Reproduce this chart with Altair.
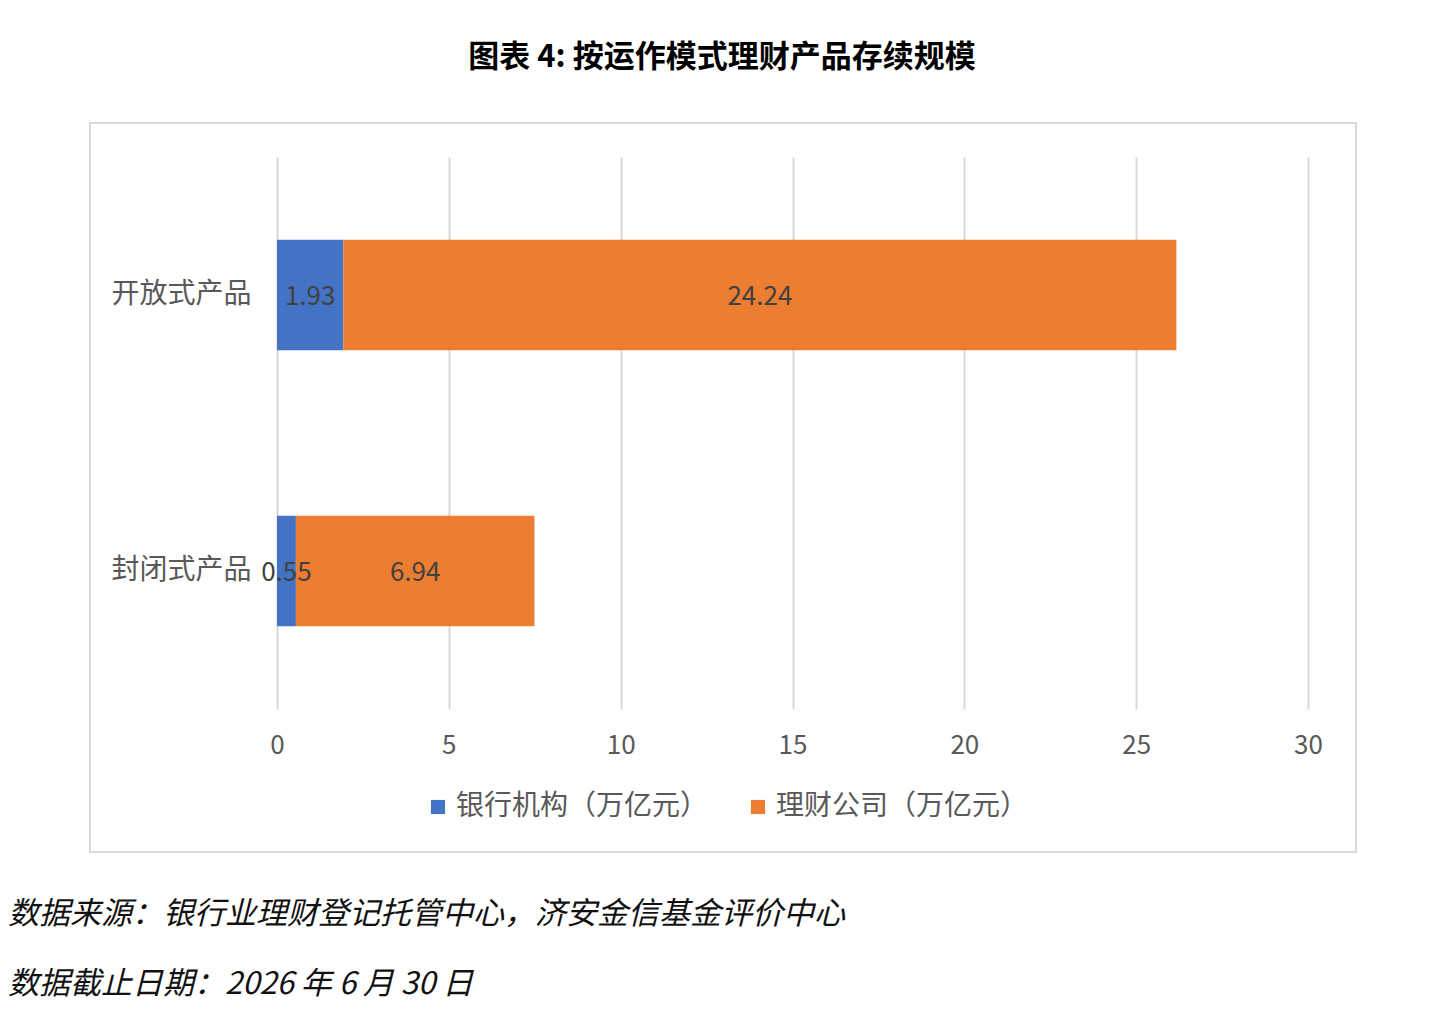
import altair as alt
import pandas as pd

# data
categories = ["开放式产品", "封闭式产品"]
series = ["银行机构（万亿元）", "理财公司（万亿元）"]
bank_values = [1.93, 0.55]
company_values = [24.24, 6.94]
colors = ["#4472C4", "#ED7D31"]
x_ticks = [0, 5, 10, 15, 20, 25, 30]

title_text = "图表 4:  按运作模式理财产品存续规模"
source_text = "数据来源：银行业理财登记托管中心，济安金信基金评价中心"
date_text = "数据截止日期：2026 年 6 月 30 日"

FONT = "Noto Sans CJK SC"

rows = []
for i, cat in enumerate(categories):
    rows.append({"category": cat, "series": series[0], "order": 0, "value": bank_values[i]})
    rows.append({"category": cat, "series": series[1], "order": 1, "value": company_values[i]})
df = pd.DataFrame(rows)
one = pd.DataFrame({"k": [0]})

y_enc = alt.Y("category:N", sort=categories, title=None,
              scale=alt.Scale(paddingInner=0.6, paddingOuter=0.3),
              axis=alt.Axis(domain=False, ticks=False, grid=False, labelFontSize=28,
                            labelColor="#595959", labelPadding=26, labelFont=FONT))

bars = alt.Chart(df).mark_bar().encode(
    x=alt.X("sum(value):Q", title=None,
            scale=alt.Scale(domain=[0, 30], nice=False),
            axis=alt.Axis(values=x_ticks, grid=True, gridColor="#d9d9d9", gridWidth=2,
                          domain=False, ticks=False, labelFontSize=26, labelFlush=False,
                          labelColor="#595959", labelPadding=23, labelFont=FONT)),
    y=y_enc,
    color=alt.Color("series:N", title=None,
                    scale=alt.Scale(domain=series, range=colors),
                    legend=alt.Legend(orient="none", legendX=147, legendY=636,
                                      direction="horizontal", symbolType="square",
                                      symbolSize=200, symbolStrokeWidth=0,
                                      labelFontSize=28, labelColor="#595959",
                                      labelFont=FONT, labelOffset=4,
                                      columnPadding=35, labelLimit=400)),
    order=alt.Order("order:Q"),
)

labels = alt.Chart(df).transform_stack(
    stack="value", groupby=["category"], as_=["v0", "v1"],
    sort=[alt.SortField("order", order="ascending")]
).transform_calculate(
    mid="(datum.v0 + datum.v1) / 2"
).mark_text(fontSize=26, color="#404040", font=FONT, dy=2).encode(
    x="mid:Q",
    y=alt.Y("category:N", sort=categories),
    text=alt.Text("value:Q", format=".2f"),
)

frame = alt.Chart(one).mark_rect(fill="transparent", stroke="#d9d9d9", strokeWidth=2).encode(
    x=alt.value(-187), x2=alt.value(1079), y=alt.value(-34), y2=alt.value(695)
)

title = alt.Chart(one).mark_text(fontSize=31, fontWeight="bold", color="#000000",
                                 font=FONT, align="center", baseline="middle").encode(
    x=alt.value(445), y=alt.value(-99), text=alt.value(title_text)
)

source = alt.Chart(one).mark_text(fontSize=31, fontStyle="italic", color="#111111",
                                  font=FONT, align="left", baseline="middle").encode(
    x=alt.value(-269), y=alt.value(758), text=alt.value(source_text)
)

date = alt.Chart(one).mark_text(fontSize=31, fontStyle="italic", color="#111111",
                                font=FONT, align="left", baseline="middle").encode(
    x=alt.value(-269), y=alt.value(828), text=alt.value(date_text)
)

chart = alt.layer(frame, bars, labels, title, source, date).properties(
    width=1031,
    height=552,
    background="white",
    padding={"left": 269, "top": 149, "right": 120, "bottom": 300},
    autosize=alt.AutoSizeParams(type="none"),
).configure_view(stroke="transparent").configure_axis(domain=False)

chart.save("out.html", embed_options={"renderer": "svg", "actions": False})
